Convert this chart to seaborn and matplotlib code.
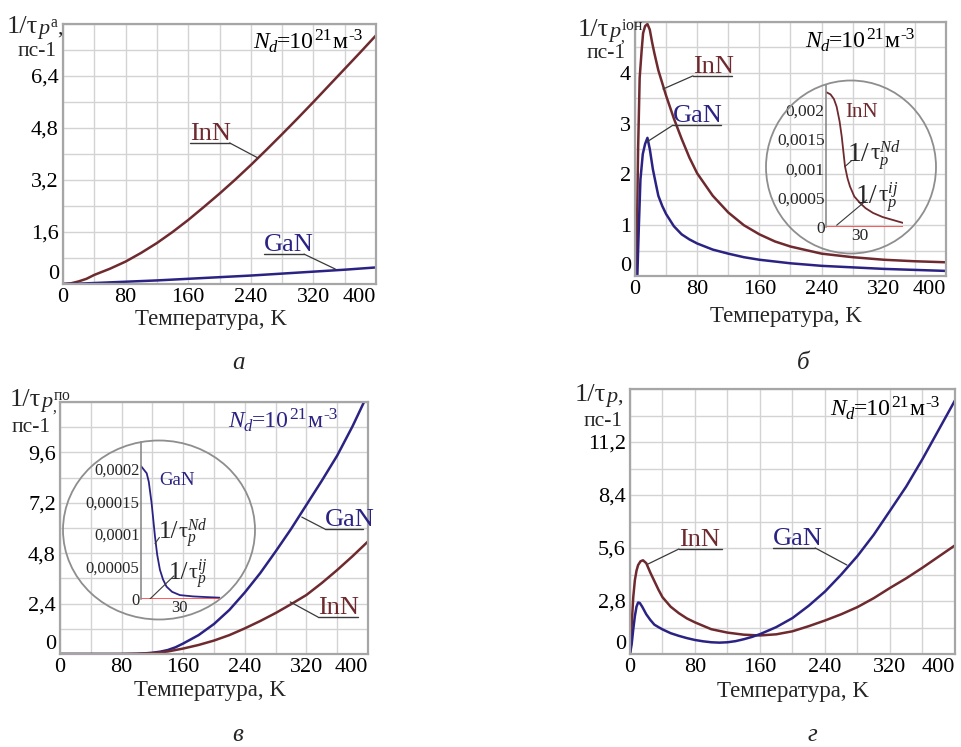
import numpy as np
import pandas as pd
import matplotlib
matplotlib.use("Agg")
import matplotlib.pyplot as plt
import matplotlib.transforms as mtrans
from matplotlib.patches import Ellipse
from matplotlib.ticker import FixedLocator, MultipleLocator, FuncFormatter
import seaborn as sns

# ---------------- data ----------------
x_ticks = [0, 80, 160, 240, 320, 400]

# panel a : acoustic
T_a_inn = [0, 10, 20, 30, 40, 60, 80, 100, 120, 140, 160, 180, 200, 220, 240, 260, 280, 300, 320, 340, 360, 380, 400]
v_a_inn = [0, 0.02, 0.08, 0.16, 0.28, 0.47, 0.69, 0.96, 1.26, 1.60, 1.97, 2.37, 2.78, 3.21, 3.66, 4.13, 4.61, 5.10, 5.60, 6.11, 6.62, 7.13, 7.65]
T_a_gan = [0, 20, 40, 80, 120, 160, 200, 240, 280, 320, 360, 400]
v_a_gan = [0, 0.01, 0.03, 0.07, 0.11, 0.16, 0.21, 0.26, 0.32, 0.38, 0.44, 0.51]
yt_a = [0, 1.6, 3.2, 4.8, 6.4]

# panel б : ionized impurity
T_b_inn = [0, 2, 4, 6, 8.6, 10.4, 13, 16, 19, 22, 25, 30, 35, 40, 50, 60, 70, 80, 100, 120, 140, 160, 180, 200, 240, 280, 320, 360, 400]
v_b_inn = [0, 0.3, 2.5, 3.9, 4.45, 4.78, 4.92, 4.96, 4.85, 4.6, 4.38, 4.05, 3.8, 3.55, 3.1, 2.7, 2.33, 2.02, 1.58, 1.25, 1.00, 0.82, 0.68, 0.58, 0.44, 0.37, 0.32, 0.29, 0.27]
T_b_gan = [0, 3, 5, 7, 10, 13, 16, 19, 23, 27, 30, 35, 40, 50, 60, 70, 80, 100, 120, 140, 160, 200, 240, 280, 320, 360, 400]
v_b_gan = [0, 0, 1.0, 1.9, 2.4, 2.6, 2.72, 2.5, 2.1, 1.8, 1.58, 1.38, 1.22, 0.98, 0.82, 0.72, 0.64, 0.52, 0.44, 0.37, 0.32, 0.25, 0.20, 0.17, 0.14, 0.12, 0.10]
yt_b = [0, 1, 2, 3, 4]

# inset б (InN, small T)
T_bi = [0, 4, 7, 9.4, 12, 13.9, 16.8, 19, 21.2, 25, 30, 35, 41.5, 50, 59, 68]
v_bi = [0.00230, 0.00226, 0.00218, 0.00205, 0.00180, 0.00154, 0.00103, 0.00083, 0.00069, 0.00052, 0.00041, 0.00032, 0.00024, 0.00017, 0.00012, 0.00007]
T_bi_ij = [0, 68]
v_bi_ij = [0, 0]
yt_bi = [0, 0.0005, 0.001, 0.0015, 0.002]
yl_bi = ["0", "0,0005", "0,001", "0,0015", "0,002"]

# panel в : polar optical
T_c_gan = [0, 40, 80, 100, 110, 120, 130, 140, 150, 160, 180, 200, 220, 240, 260, 280, 300, 320, 340, 360, 380, 400]
v_c_gan = [0, 0, 0, 0.01, 0.03, 0.06, 0.11, 0.19, 0.32, 0.50, 0.90, 1.43, 2.10, 2.93, 3.85, 4.88, 5.95, 7.10, 8.25, 9.45, 10.85, 12.4]
T_c_inn = [0, 80, 100, 120, 140, 160, 180, 200, 220, 240, 260, 280, 300, 320, 340, 360, 380, 400]
v_c_inn = [0, 0, 0.01, 0.04, 0.12, 0.26, 0.43, 0.64, 0.90, 1.22, 1.57, 1.95, 2.37, 2.81, 3.38, 4.0, 4.66, 5.36]
yt_c = [0, 2.4, 4.8, 7.2, 9.6]

# inset в (GaN, small T)
T_ci = [0, 4.4, 6, 8.2, 10.8, 12.5, 14.6, 17, 19.7, 24, 30, 40, 50, 61]
v_ci = [0.000204, 0.000193, 0.000180, 0.000147, 0.000096, 0.000068, 0.000045, 0.000030, 0.000019, 0.000011, 0.000006, 0.000004, 0.000003, 0.000002]
T_ci_ij = [0, 61]
v_ci_ij = [0, 0]
yt_ci = [0, 0.00005, 0.0001, 0.00015, 0.0002]
yl_ci = ["0", "0,00005", "0,0001", "0,00015", "0,0002"]

# panel г : total
T_d_inn = [0, 2, 4, 6, 8, 10, 13, 16, 20, 25, 30, 35, 40, 50, 60, 70, 80, 100, 120, 140, 160, 180, 200, 220, 240, 260, 280, 300, 320, 340, 360, 380, 400]
v_d_inn = [0, 1.5, 3.0, 3.9, 4.4, 4.7, 4.9, 4.95, 4.8, 4.3, 3.85, 3.4, 3.0, 2.5, 2.16, 1.88, 1.67, 1.31, 1.13, 1.02, 0.98, 1.04, 1.20, 1.47, 1.77, 2.10, 2.48, 2.95, 3.49, 4.0, 4.56, 5.15, 5.74]
T_d_gan = [0, 2, 4, 6, 8, 10, 12, 15, 20, 25, 30, 35, 40, 50, 60, 70, 80, 90, 100, 110, 120, 130, 140, 150, 160, 180, 200, 220, 240, 260, 280, 300, 320, 340, 360, 380, 400]
v_d_gan = [0, 0.5, 1.3, 2.0, 2.5, 2.72, 2.7, 2.5, 2.1, 1.8, 1.55, 1.42, 1.3, 1.1, 0.96, 0.84, 0.74, 0.67, 0.62, 0.60, 0.62, 0.68, 0.78, 0.90, 1.05, 1.42, 1.90, 2.55, 3.30, 4.20, 5.18, 6.30, 7.57, 8.85, 10.3, 11.85, 13.4]
yt_d = [0, 2.8, 5.6, 8.4, 11.2]

# ---------------- style ----------------
sns.set_theme(style="white")
plt.rcParams["font.family"] = ["Liberation Serif", "DejaVu Serif"]
plt.rcParams["mathtext.fontset"] = "custom"
plt.rcParams["mathtext.rm"] = "Liberation Serif"
plt.rcParams["mathtext.it"] = "Liberation Serif:italic"
plt.rcParams["mathtext.bf"] = "Liberation Serif:bold"

C_INN = "#6e2a2e"
C_GAN = "#2b2383"
C_RED = "#ff2a2a"
GRID = "#d3d3d3"
SPINE = "#a6a6a6"

W, H = 962, 747
fig = plt.figure(figsize=(W / 100, H / 100), dpi=100)
fig.patch.set_facecolor("white")
renderer = fig.canvas.get_renderer()


def box(x0, y0, x1, y1):
    return [x0 / W, 1 - y1 / H, (x1 - x0) / W, (y1 - y0) / H]


def fmt(v, p):
    return ("%g" % v).replace(".", ",")


def rich(x, y, parts, color="black"):
    """parts: (text, size, style, dy, dx) placed left to right, pixels, y = baseline."""
    cx = x
    for s, fs, st, dy, dx in parts:
        t = fig.text((cx + dx) / W, 1 - (y + dy) / H, s, fontsize=fs, style=st, color=color,
                     ha="left", va="baseline")
        cx = cx + dx + t.get_window_extent(renderer).width


def style_main(ax, ymax, yt, ystep, xl):
    ax.set_xlim(0, 400)
    ax.set_ylim(0, ymax)
    ax.xaxis.set_major_locator(FixedLocator(x_ticks))
    ax.xaxis.set_minor_locator(MultipleLocator(40))
    ax.yaxis.set_major_locator(FixedLocator(yt))
    ax.yaxis.set_minor_locator(MultipleLocator(ystep))
    ax.yaxis.set_major_formatter(FuncFormatter(fmt))
    ax.grid(True, which="both", color=GRID, lw=1.0)
    ax.set_axisbelow(True)
    ax.tick_params(which="both", length=0, labelsize=16, pad=3, colors="black")
    for s in ax.spines.values():
        s.set_color(SPINE)
        s.set_linewidth(1.6)
    ax.set_xlabel("Температура, K", fontsize=16.5)
    ax.xaxis.set_label_coords(xl[0], xl[1])
    ax.set_ylabel("")
    ax.yaxis.get_major_ticks()[0].label1.set_verticalalignment("bottom")
    ax.xaxis.get_major_ticks()[-1].label1.set_horizontalalignment("right")


def curve(ax, T, v, c, lw=1.8):
    sns.lineplot(x=T, y=v, ax=ax, color=c, lw=lw, estimator=None, sort=False)


def tag(ax, text, x0, x1, y, xe, ye, color, left=False, fs=19):
    off = mtrans.offset_copy(ax.transData, fig=fig, x=0, y=3, units="dots")
    ax.text(x0, y, text, color=color, fontsize=fs, ha="left", va="baseline", transform=off)
    ax.plot([x0, x1], [y, y], color="#3a3a3a", lw=1.0, clip_on=False)
    xs = x0 if left else x1
    ax.plot([xs, xe], [y, ye], color="#3a3a3a", lw=0.9, clip_on=False)


def nd(x, y, color="black"):
    rich(x, y, [("N", 17, "italic", 0, 0),
                ("d", 12, "italic", 4, 0),
                ("=10", 17, "normal", 0, 0),
                ("21", 12.5, "normal", -8, 0.5),
                ("м", 17, "normal", 0, 0.5),
                ("-3", 12.5, "normal", -8, 0.5)], color)


def ytitle(x1, y1, x2, y2, sup, comma_under=False):
    t = fig.text(x1 / W, 1 - y1 / H, "1/τ", fontsize=19, ha="left", va="baseline")
    xe = x1 + t.get_window_extent(renderer).width - 1
    if sup is None:
        s = r"$p$,"
    elif comma_under:
        s = r"$p^{\mathrm{" + sup + r"}}_{,}$"
    else:
        s = r"$p^{\mathrm{" + sup + "}}$,"
    fig.text(xe / W, 1 - (y1 + 1) / H, s, fontsize=16, ha="left", va="baseline")
    fig.text(x2 / W, 1 - y2 / H, "пс-1", fontsize=15.5, ha="left", va="baseline")


def tau_lbl(x, y, sup, big=20, mid=17):
    t = fig.text(x / W, 1 - y / H, "1/", fontsize=big, ha="left", va="baseline")
    xe = x + t.get_window_extent(renderer).width
    fig.text(xe / W, 1 - y / H, "τ$_p^{" + sup + "}$", fontsize=mid, ha="left", va="baseline")


def inset(rect, T, v, T0, v0, xmax, ymax, yt, yl, color, fs=12):
    ax = fig.add_axes(box(*rect))
    ax.patch.set_alpha(0)
    curve(ax, T, v, color, lw=1.3)
    curve(ax, T0, v0, C_RED, lw=1.8)
    ax.set_xlim(0, xmax)
    ax.set_ylim(0, ymax)
    ax.yaxis.set_major_locator(FixedLocator(yt))
    ax.set_yticklabels(yl)
    ax.xaxis.set_major_locator(FixedLocator([30]))
    ax.set_xticklabels(["30"])
    ax.tick_params(length=0, labelsize=fs, pad=1)
    for k, s in ax.spines.items():
        s.set_visible(k == "left")
    ax.spines["left"].set_color("#8c8c8c")
    ax.spines["left"].set_linewidth(1.2)
    ax.grid(False)
    ax.set_xlabel("")
    ax.set_ylabel("")
    return ax


def ring(cx, cy, w, h):
    fig.add_artist(Ellipse((cx / W, 1 - cy / H), w / W, h / H, transform=fig.transFigure,
                           fill=False, ec="#8e8e8e", lw=1.3))


# ---------------- panel а ----------------
axA = fig.add_axes(box(63, 24, 376, 284))
curve(axA, T_a_inn, v_a_inn, C_INN)
curve(axA, T_a_gan, v_a_gan, C_GAN)
style_main(axA, 8.0, yt_a, 0.8, (0.473, -0.095))
tag(axA, "InN", 162, 213, 4.34, 249, 3.88, C_INN)
tag(axA, "GaN", 257, 308, 0.92, 348, 0.46, C_GAN)
nd(253, 48)
ytitle(7, 33, 18, 56, "a")

# ---------------- panel б ----------------
axB = fig.add_axes(box(635, 22, 946, 276))
curve(axB, T_b_inn, v_b_inn, C_INN)
curve(axB, T_b_gan, v_b_gan, C_GAN)
style_main(axB, 5.0, yt_b, 0.5, (0.486, -0.12))
tag(axB, "InN", 74.6, 124.8, 3.94, 36, 3.68, C_INN, left=True)
tag(axB, "GaN", 48.9, 110.6, 2.97, 15.4, 2.64, C_GAN, left=True)
nd(805, 47)
ytitle(578, 36, 587, 58, "іон", comma_under=True)

ring(851, 167, 170, 173)
axBi = inset((826, 85, 903, 227), T_bi, v_bi, T_bi_ij, v_bi_ij, 68, 0.00242, yt_bi, yl_bi, C_INN, fs=12.5)
axBi.text(16.8, 0.00187, "InN", color=C_INN, fontsize=15, ha="left", va="baseline")
tau_lbl(848, 161, "Nd")
axBi.plot([22.5, 16.8], [0.00113, 0.00103], color="#3a3a3a", lw=0.8)
tau_lbl(856, 203, "ij")
axBi.plot([36, 9.4], [0.00046, 0.00003], color="#3a3a3a", lw=0.8)

# ---------------- panel в ----------------
axC = fig.add_axes(box(60, 402, 368, 654))
curve(axC, T_c_gan, v_c_gan, C_GAN)
curve(axC, T_c_inn, v_c_inn, C_INN)
style_main(axC, 12.0, yt_c, 1.2, (0.487, -0.105))
tag(axC, "GaN", 344, 393.5, 5.95, 314, 6.52, C_GAN, left=True)
tag(axC, "InN", 335, 387, 1.76, 299, 2.48, C_INN, left=True)
nd(228, 427, C_GAN)
ytitle(10, 406, 12, 432, "по", comma_under=True)

ring(159, 530, 192, 179)
axCi = inset((141, 442, 220, 599), T_ci, v_ci, T_ci_ij, v_ci_ij, 61, 0.000241, yt_ci, yl_ci, C_GAN, fs=12)
axCi.text(13.8, 0.000175, "GaN", color=C_GAN, fontsize=13.5, ha="left", va="baseline")
tau_lbl(159, 538, "Nd", big=18, mid=16)
axCi.plot([14.2, 10.8], [0.0000945, 0.000085], color="#3a3a3a", lw=0.8)
tau_lbl(169, 579, "ij", big=18, mid=16)
axCi.plot([25.4, 6.9], [0.0000354, 0.0], color="#3a3a3a", lw=0.8)

# ---------------- panel г ----------------
axD = fig.add_axes(box(630, 389, 955, 654))
curve(axD, T_d_inn, v_d_inn, C_INN)
curve(axD, T_d_gan, v_d_gan, C_GAN)
style_main(axD, 14.0, yt_d, 1.4, (0.5, -0.1))
tag(axD, "InN", 60.3, 113, 5.55, 22, 4.75, C_INN, left=True)
tag(axD, "GaN", 176, 228, 5.6, 267, 4.7, C_GAN)
nd(830, 415)
ytitle(575, 401, 584, 426, None)

# ---------------- panel letters ----------------
for (px, py, s) in [(239, 369, "а"), (803, 369, "б"), (238, 741, "в"), (812, 741, "г")]:
    fig.text(px / W, 1 - py / H, s, fontsize=18, style="italic", ha="center", va="baseline")

fig.savefig("out.png", dpi=100, facecolor="white")
